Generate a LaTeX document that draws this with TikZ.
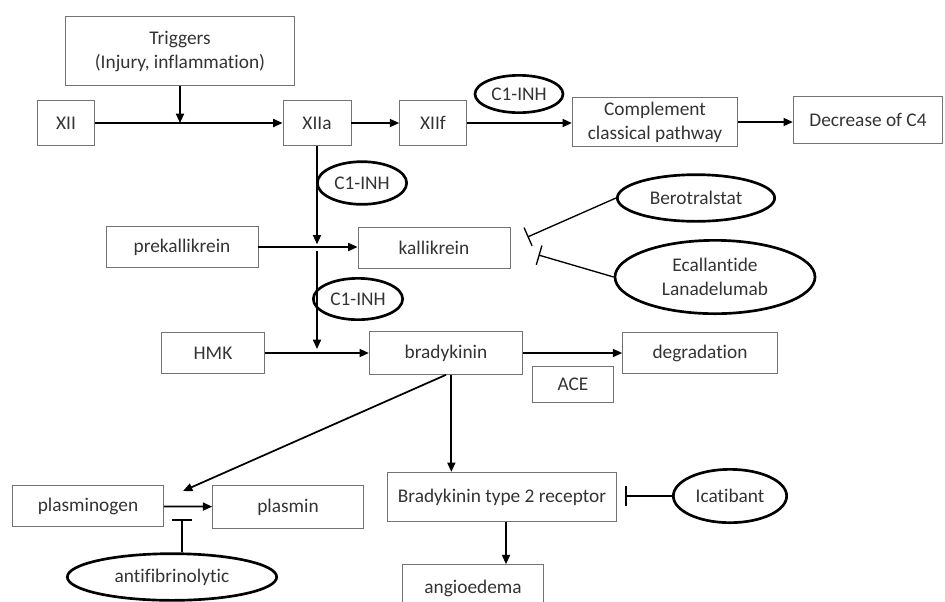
\documentclass[tikz,border=0pt]{standalone}
\usepackage{fontspec}
\setmainfont{Carlito}[Ligatures=NoCommon]
\usetikzlibrary{arrows, arrows.meta, shapes.geometric}

\begin{document}
\begin{tikzpicture}[x=0.75pt,y=-0.75pt,>={Triangle[length=7pt,width=6pt]},line width=1.3pt,
  box/.style={rectangle,draw=black!55,line width=0.7pt,inner sep=2pt,align=center,
    text=black!80,font=\fontsize{14.5}{18}\selectfont},
  drug/.style={ellipse,draw=black,line width=2pt,inner sep=0pt,align=center,
    text=black!80,font=\fontsize{14.5}{18}\selectfont},
  inhib/.style={-{Bar[width=15pt]},line width=1pt}]
\useasboundingbox (0,0) rectangle (945,601);

% define the boxes
  \node[box,minimum width=172pt,minimum height=52pt] (trig) at (180,51)
{Triggers\\(Injury, inflammation)};
  \node[box,minimum width=43pt,minimum height=34pt]  (xii)    at (66,123)   {XII};
  \node[box,minimum width=51pt,minimum height=34pt]  (xiia)   at (317,123)  {XIIa};
  \node[box,minimum width=50pt,minimum height=34pt]  (xiif)   at (433,123)  {XIIf};
  \node[box,minimum width=124pt,minimum height=37pt] (compl)  at (655,122)
{Complement\\classical pathway};
  \node[box,minimum width=112pt,minimum height=35pt] (decc4)  at (868,120)  {Decrease of C4};
  \node[box,minimum width=114pt,minimum height=31pt] (prekal) at (182,247)  {prekallikrein};
  \node[box,minimum width=114pt,minimum height=31pt] (kal)    at (434,248)  {kallikrein};
  \node[box,minimum width=77pt,minimum height=31pt]  (hmk)    at (213,353)  {HMK};
  \node[box,minimum width=115pt,minimum height=32pt] (brady)  at (446,353)  {bradykinin};
  \node[box,minimum width=116pt,minimum height=31pt] (degr)   at (700,353)  {degradation};
  \node[box,minimum width=61pt,minimum height=27pt]  (ace)    at (573,384)  {ACE};
  \node[box,minimum width=113pt,minimum height=31pt] (plgen)  at (88,506)   {plasminogen};
  \node[box,minimum width=113pt,minimum height=32pt] (plmin)  at (288,507)  {plasmin};
  \node[box,minimum width=172pt,minimum height=37pt] (b2r)    at (502,497)  {Bradykinin type 2 receptor};
  \node[box,minimum width=106pt,minimum height=35pt] (angio)  at (473,588)  {angioedema};

% define the inhibitors
  \node[drug,minimum width=66pt,minimum height=28pt]  (c1a)   at (519,94)   {C1-INH};
  \node[drug,minimum width=67pt,minimum height=32pt]  (c1b)   at (362,183)  {C1-INH};
  \node[drug,minimum width=67pt,minimum height=31pt]  (c1c)   at (358,299)  {C1-INH};
  \node[drug,minimum width=118pt,minimum height=35pt] (bero)  at (696,198)  {Berotralstat};
  \node[drug,minimum width=150pt,minimum height=55pt] (ecal)  at (715,277)  {Ecallantide\\Lanadelumab};
  \node[drug,minimum width=85pt,minimum height=40pt]  (icat)  at (730,496)  {Icatibant};
  \node[drug,minimum width=157pt,minimum height=35pt] (antif) at (172,577)  {antifibrinolytic};

  \coordinate (fibup) at (183,491);
  \coordinate (fibdn) at (182,519);

% define the links
  \path[->] (xii) edge (xiia)
        (xiia) edge (xiif)
        (xiif.east) edge (xiif.east -| compl.west)
        (compl.east) edge (compl.east -| decc4.west)
        (prekal.east) edge (prekal.east -| kal.west)
        (hmk) edge (brady)
        (brady) edge (degr)
        (trig.south) edge (trig.south |- xii.east);

  \draw[->,shorten >=2pt] (xiia.south) -- (xiia.south |- prekal.east);
  \draw[->,shorten >=3pt] ([yshift=-3pt]xiia.south |- prekal.east) -- (xiia.south |- hmk.east);
  \draw[->] (brady.south) -- (fibup);
  \draw[->] ([xshift=4pt]brady.south) -- ([xshift=4pt]brady.south |- b2r.north);
  \draw[->] ([xshift=3pt]b2r.south) -- ([xshift=3pt]b2r.south |- angio.north);
  \draw[->] (plgen) -- (plmin);

% inhibition links
  \draw[inhib] (bero.west) -- ([shift={(17,-11)}]kal.east);
  \draw[inhib] (ecal.west) -- ([shift={(28,7)}]kal.east);
  \draw[inhib,line width=1.3pt,shorten >=6pt] (icat.west) -- (icat.west -| b2r.east);
  \draw[inhib,line width=1.3pt] (antif.north -| fibdn) -- (fibdn);

\end{tikzpicture}
\end{document}
